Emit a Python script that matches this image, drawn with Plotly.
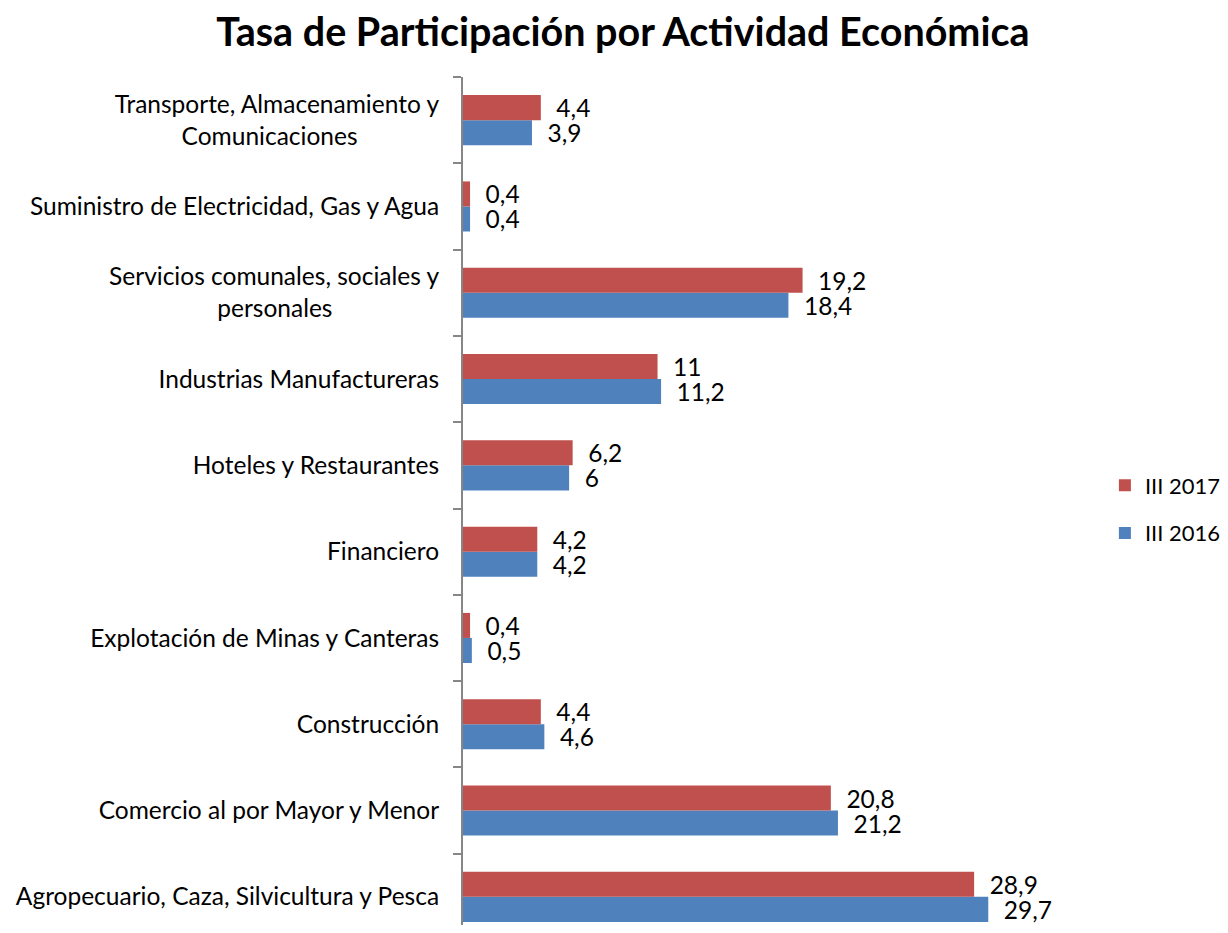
import plotly.graph_objects as go

NB = "\u00a0"
categories = [
    "Agropecuario, Caza, Silvicultura y Pesca",
    "Comercio al por Mayor y Menor",
    "Construcción",
    "Explotación de Minas y Canteras",
    "Financiero",
    "Hoteles y Restaurantes",
    "Industrias Manufactureras",
    "Servicios comunales, sociales y<br>personales" + NB * 17,
    "Suministro de Electricidad, Gas y Agua",
    "Transporte, Almacenamiento y<br>Comunicaciones" + NB * 13,
]
values_2016 = [29.7, 21.2, 4.6, 0.5, 4.2, 6.0, 11.2, 18.4, 0.4, 3.9]
values_2017 = [28.9, 20.8, 4.4, 0.4, 4.2, 6.2, 11.0, 19.2, 0.4, 4.4]
series_names = ["III 2016", "III 2017"]
colors = ["#4F81BD", "#C0504D"]
legend_ranks = [2, 1]

def fmt(v):
    s = ("%g" % v).replace(".", ",")
    return NB * 2 + s

FONT = "Lato"
FS = 24.5
fig = go.Figure()
for name, vals, col, rk in zip(series_names, [values_2016, values_2017], colors, legend_ranks):
    fig.add_trace(go.Bar(
        y=categories, x=vals, orientation="h", name=name,
        marker=dict(color=col, line=dict(width=0)),
        text=[fmt(v) for v in vals], textposition="outside",
        textfont=dict(size=FS, color="black", family=FONT),
        cliponaxis=False, legendgroup=name, legendrank=rk,
    ))

W, H = 1212, 917
L, T = 455, 69
fig.update_layout(
    width=W, height=H,
    margin=dict(l=L, r=138, t=T, b=0, autoexpand=False),
    paper_bgcolor="white", plot_bgcolor="white",
    barmode="group", bargap=0.42, bargroupgap=0, uniformtext=dict(mode=False),
    title=dict(text="<b>Tasa de Participación por Actividad Económica</b>",
               x=0.5074, xanchor="center", y=0.9738, yanchor="middle",
               font=dict(size=39.5, color="black", family=FONT)),
    font=dict(family=FONT, size=FS, color="black"),
    legend=dict(x=1.037, xanchor="left", y=0.49, yanchor="middle",
                traceorder="grouped", tracegroupgap=16,
                font=dict(size=22, color="black", family=FONT)),
    showlegend=True,
)
fig.update_traces(constraintext="none")
fig.update_xaxes(range=[0, 35], visible=False, showgrid=False)
fig.update_yaxes(
    type="category", range=[-0.326, 9.5], showline=True, linecolor="#868686", linewidth=2,
    ticks="outside", tickson="boundaries", ticklen=8, tickcolor="#868686", tickwidth=2,
    showgrid=False, tickfont=dict(size=FS, color="black", family=FONT),
    ticklabelstandoff=17, automargin=False,
)

fig.write_html("out.html")
